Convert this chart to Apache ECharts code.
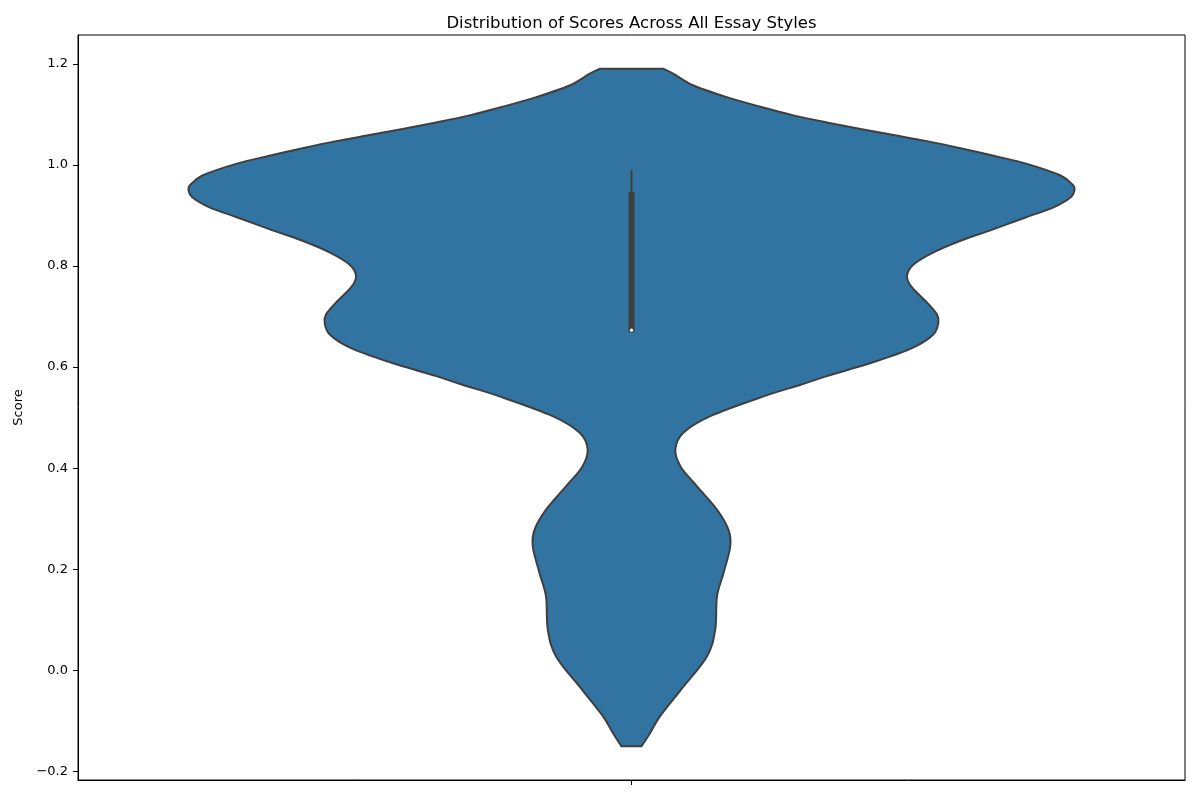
<!DOCTYPE html>
<html><head><meta charset="utf-8">
<script src="https://cdn.jsdelivr.net/npm/echarts@6/dist/echarts.min.js"></script>
<style>html,body{margin:0;padding:0;background:#fff}#c{width:1200px;height:800px}</style>
</head><body><div id="c"></div>
<script>
// Kernel density outline of the scores (score value, density normalised to max = 1)
const scores = [-0.150, -0.124, -0.090, -0.039, 0.027, 0.080, 0.146, 0.193, 0.245, 0.278,
  0.318, 0.364, 0.403, 0.437, 0.470, 0.503, 0.542, 0.565, 0.582, 0.612, 0.639,
  0.665, 0.688, 0.704, 0.728, 0.758, 0.780, 0.803, 0.827, 0.850, 0.873,
  0.897, 0.916, 0.936, 0.949, 0.959, 0.979, 1.002, 1.018, 1.033, 1.047,
  1.059, 1.071, 1.084, 1.098, 1.115, 1.134, 1.157, 1.180, 1.190];
const density = [0.023, 0.042, 0.065, 0.111, 0.170, 0.189, 0.193, 0.208, 0.223, 0.219,
  0.193, 0.148, 0.111, 0.099, 0.117, 0.178, 0.298, 0.382, 0.441, 0.554, 0.637,
  0.682, 0.693, 0.690, 0.667, 0.633, 0.622, 0.637, 0.682, 0.743, 0.818,
  0.893, 0.953, 0.992, 1.000, 0.998, 0.969, 0.893, 0.818, 0.743, 0.667,
  0.592, 0.517, 0.441, 0.366, 0.291, 0.215, 0.140, 0.095, 0.072];
// inner box: [q1, median, q3] and whiskers [low, high]
const quartiles = [0.669, 0.673, 0.946];
const whiskers = [0.669, 0.990];
const yTicks = [-0.2, 0.0, 0.2, 0.4, 0.6, 0.8, 1.0, 1.2];
const yLimits = [-0.217, 1.257];
const xTicks = [0];
const categories = [''];

const VIOLIN_WIDTH = 0.8;
const FILL = '#3274a1';
const EDGE = '#3f3f3f';

function fmt(v) {
  const s = Math.abs(v).toFixed(1);
  return v < -1e-9 ? '\u2212' + s : s;
}

// smooth curve through given pixel points (Catmull-Rom -> cubic bezier), continuing a path
function curveThrough(p) {
  let d = '';
  for (let i = 0; i < p.length - 1; i++) {
    const p0 = p[Math.max(i - 1, 0)], p1 = p[i], p2 = p[i + 1], p3 = p[Math.min(i + 2, p.length - 1)];
    const c1x = p1[0] + (p2[0] - p0[0]) / 6, c1y = p1[1] + (p2[1] - p0[1]) / 6;
    const c2x = p2[0] - (p3[0] - p1[0]) / 6, c2y = p2[1] - (p3[1] - p1[1]) / 6;
    d += ' C' + c1x.toFixed(2) + ' ' + c1y.toFixed(2) + ' ' + c2x.toFixed(2) + ' ' + c2y.toFixed(2) +
         ' ' + p2[0].toFixed(2) + ' ' + p2[1].toFixed(2);
  }
  return d;
}

function renderViolin(params, api) {
  const half = VIOLIN_WIDTH / 2;
  const right = [], left = [];
  for (let i = 0; i < scores.length; i++) {
    right.push(api.coord([density[i] * half, scores[i]]));
    left.push(api.coord([-density[i] * half, scores[i]]));
  }
  left.reverse();
  // start at the bottom-right corner, run up the right side, across the top, down the left side
  let d = 'M' + right[0][0].toFixed(2) + ' ' + right[0][1].toFixed(2);
  d += curveThrough(right);
  d += ' L' + left[0][0].toFixed(2) + ' ' + left[0][1].toFixed(2);
  d += curveThrough(left);
  d += ' Z';
  return {
    type: 'path',
    shape: { pathData: d },
    style: { fill: FILL, stroke: EDGE, lineWidth: 2, lineJoin: 'round' }
  };
}

function renderBox(params, api) {
  const wl = api.coord([0, whiskers[0]]);
  const wh = api.coord([0, whiskers[1]]);
  const q1 = api.coord([0, quartiles[0]]);
  const q3 = api.coord([0, quartiles[2]]);
  const md = api.coord([0, quartiles[1]]);
  return {
    type: 'group',
    children: [
      { type: 'line', shape: { x1: wl[0], y1: wl[1], x2: wh[0], y2: wh[1] },
        style: { stroke: EDGE, lineWidth: 2 } },
      { type: 'rect', shape: { x: q3[0] - 3, y: q3[1], width: 6, height: q1[1] - q3[1] },
        style: { fill: EDGE } },
      { type: 'circle', shape: { cx: md[0], cy: md[1], r: 1.6 },
        style: { fill: '#ffffff' } }
    ]
  };
}

const chart = echarts.init(document.getElementById('c'), null, { renderer: 'canvas' });
chart.setOption({
  animation: false,
  backgroundColor: '#ffffff',
  title: {
    text: 'Distribution of Scores Across All Essay Styles',
    left: 626.5, top: 10, textAlign: 'center',
    textStyle: { fontFamily: 'DejaVu Sans', fontSize: 16.5, fontWeight: 'normal', color: '#000' }
  },
  grid: { left: 78, right: 15, top: 35, bottom: 20, show: true, borderColor: '#000', borderWidth: 1, backgroundColor: 'transparent' },
  xAxis: {
    type: 'value', min: -0.5, max: 0.5,
    axisLine: { show: true, onZero: false, lineStyle: { color: '#000', width: 1 } },
    axisTick: { show: true, customValues: xTicks, length: 5, lineStyle: { color: '#000' } },
    axisLabel: { show: true, customValues: xTicks, formatter: () => categories[0] },
    splitLine: { show: false }
  },
  yAxis: {
    type: 'value', min: yLimits[0], max: yLimits[1],
    name: 'Score', nameLocation: 'middle', nameGap: 50,
    nameTextStyle: { fontFamily: 'DejaVu Sans', fontSize: 13, color: '#000' },
    axisLine: { show: true, onZero: false, lineStyle: { color: '#000', width: 1 } },
    axisTick: { show: true, customValues: yTicks, length: 5, lineStyle: { color: '#000' } },
    axisLabel: { customValues: yTicks, formatter: fmt, margin: 10,
      fontFamily: 'DejaVu Sans', fontSize: 13, color: '#000' },
    splitLine: { show: false }
  },
  series: [
    { type: 'custom', renderItem: renderViolin, data: [0], silent: true, z: 2 },
    { type: 'custom', renderItem: renderBox, data: [0], silent: true, z: 3 }
  ]
});
</script>
</body></html>
